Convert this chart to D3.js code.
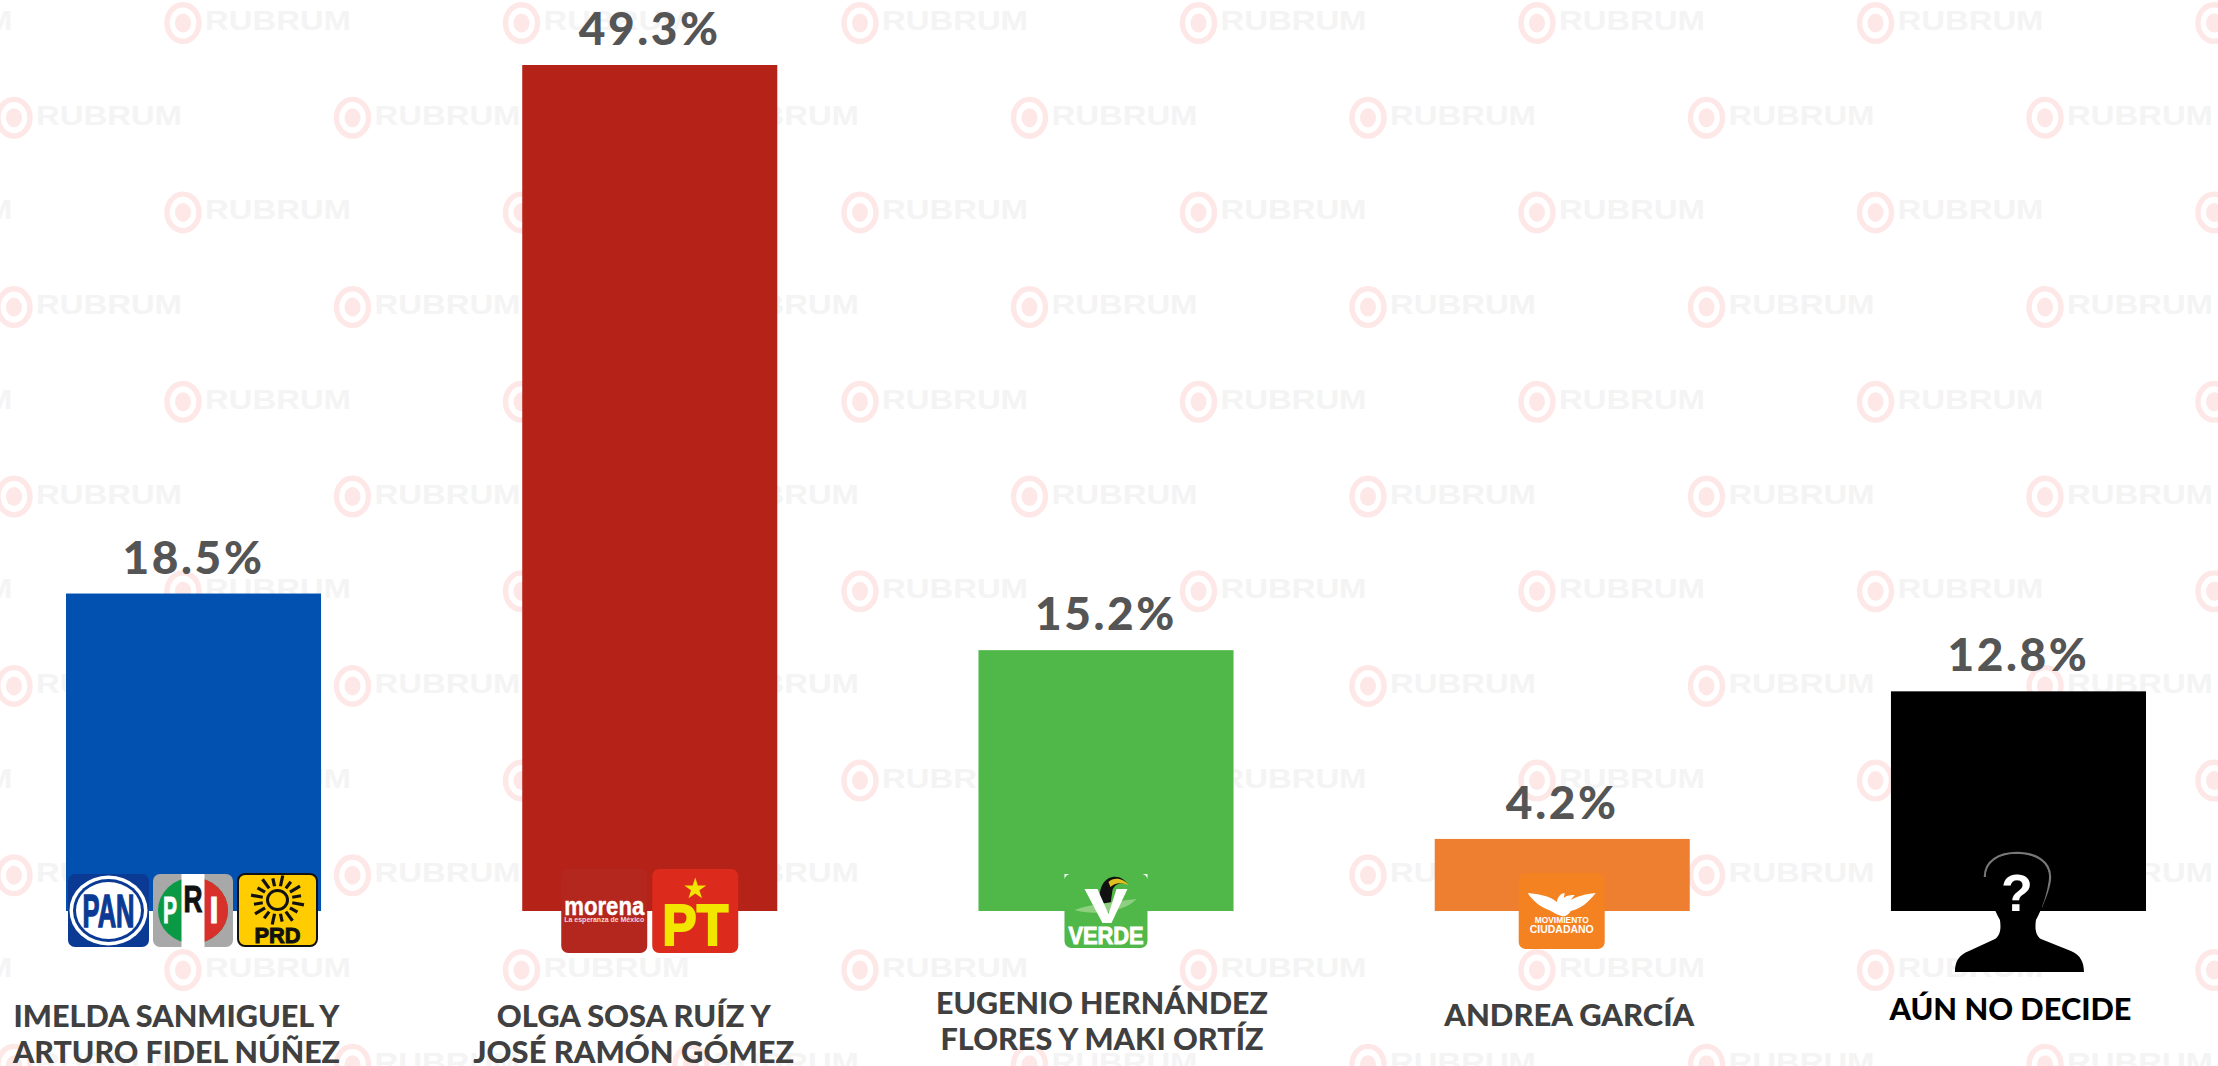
<!DOCTYPE html>
<html><head><meta charset="utf-8">
<style>html,body{margin:0;padding:0;background:#fff;overflow:hidden}svg{display:block}</style>
<script src="https://cdn.jsdelivr.net/npm/d3@7"></script></head>
<body><svg id="c" width="2218" height="1066"></svg>
<script>
const categories=["IMELDA SANMIGUEL Y|ARTURO FIDEL NÚÑEZ","OLGA SOSA RUÍZ Y|JOSÉ RAMÓN GÓMEZ","EUGENIO HERNÁNDEZ|FLORES Y MAKI ORTÍZ","ANDREA GARCÍA","AÚN NO DECIDE"];
const values=[18.5,49.3,15.2,4.2,12.8];
const barColors=["#0250b0","#b52217","#50b848","#ee7f31","#000000"];
const labelColors=["#404040","#404040","#404040","#404040","#000000"];
// layout of the category labels: x shift from bar centre, first baseline, fitted width per line
const labelDx=[-17,-16,-4,7,-8];
const labelY=[1027,1027,1014,1026,1020];
const labelW=[[326,327],[274,321],[332,323],[250],[242]];

const svg=d3.select("#c");
const x=d3.scaleBand().domain(categories).range([66,2146]).paddingInner(0.441);
const y=d3.scaleLinear().domain([0,49.3]).range([911,65]);
const base=y(0);

// watermark
const wm=svg.append("g");
const rowStep=94.7,colStep=338.5;
d3.range(0,12).forEach(r=>{
  const x0=r%2?14:183-338.5;
  d3.range(0,8).forEach(c=>{
    const g=wm.append("g").attr("transform",`translate(${x0+c*colStep},${25+r*rowStep-2})`);
    g.append("ellipse").attr("rx",16).attr("ry",18.3).attr("fill","none").attr("stroke","#fee7e7").attr("stroke-width",5.4);
    g.append("ellipse").attr("rx",8).attr("ry",9.5).attr("fill","#fee7e7");
    g.append("text").attr("x",22).attr("y",7).attr("font-family","Liberation Sans").attr("font-weight",700)
      .attr("font-size",28).attr("fill","#f4f4f4").attr("textLength",146).attr("lengthAdjust","spacingAndGlyphs").text("RUBRUM");
  });
});

// bars
svg.append("g").selectAll("rect").data(categories).join("rect")
  .attr("x",d=>x(d)).attr("width",x.bandwidth())
  .attr("y",(d,i)=>y(values[i])).attr("height",(d,i)=>base-y(values[i]))
  .attr("fill",(d,i)=>barColors[i]);

// value labels
svg.append("g").selectAll("text").data(categories).join("text")
  .attr("x",d=>x(d)+x.bandwidth()/2).attr("y",(d,i)=>y(values[i])-20)
  .attr("text-anchor","middle").attr("font-family","Lato").attr("font-weight",900).attr("font-size",46)
  .attr("letter-spacing",2.6).attr("fill","#555").text((d,i)=>values[i].toFixed(1)+"%");

// category labels
categories.forEach((cat,i)=>{
  cat.split("|").forEach((ln,j)=>{
    svg.append("text").attr("x",x(cat)+x.bandwidth()/2+labelDx[i]).attr("y",labelY[i]+j*35.5)
      .attr("text-anchor","middle").attr("font-family","Lato").attr("font-weight",900).attr("font-size",30.5)
      .attr("fill",labelColors[i]).attr("textLength",labelW[i][j]).attr("lengthAdjust","spacingAndGlyphs").text(ln);
  });
});

// logos
function T(g,s,xx,yy,size,fill,w,sw){return g.append("text").attr("x",xx).attr("y",yy).attr("text-anchor","middle")
  .attr("font-family","Liberation Sans").attr("font-weight",700).attr("font-size",size).attr("fill",fill)
  .attr("stroke",sw?fill:"none").attr("stroke-width",sw||0)
  .attr("textLength",w).attr("lengthAdjust","spacingAndGlyphs").text(s);}
function box(g,w,h,fill,stroke){return g.append("rect").attr("width",w).attr("height",h).attr("rx",7).attr("fill",fill).attr("stroke",stroke||"none").attr("stroke-width",stroke?2:0);}

const lg=svg.append("g");
function at(i,dx,dy){return lg.append("g").attr("transform",`translate(${x(categories[i])+dx},${base+dy})`);}

// PAN
let g=at(0,2,-37); box(g,81,73,"#0a3a94");
g.append("ellipse").attr("cx",40.5).attr("cy",36.5).attr("rx",39).attr("ry",35).attr("fill","#fff");
g.append("ellipse").attr("cx",40.5).attr("cy",36.5).attr("rx",35.5).attr("ry",31.5).attr("fill","#0a3a94");
g.append("ellipse").attr("cx",40.5).attr("cy",36.5).attr("rx",32.5).attr("ry",28.5).attr("fill","#fff");
T(g,"PAN",40.5,53,46,"#0a3a94",52,1.5);

// PRI
g=at(0,87,-37); box(g,80,73,"#a8a8a8");
g.append("ellipse").attr("cx",40).attr("cy",36.5).attr("rx",35).attr("ry",33).attr("fill","#0a9a46");
g.append("path").attr("d","M40,3.5A35,33 0 0 1 40,69.5Z").attr("fill","#d8302a");
g.append("rect").attr("x",28.5).attr("width",23).attr("height",73).attr("fill","#fff");
T(g,"P",17,49,36,"#fff",14,1); T(g,"R",40,38,36,"#111",19,1); T(g,"I",61,49,36,"#fff",9,1);

// PRD
g=at(0,172,-37); box(g,79,72,"#ffcc00","#111");
const sun=g.append("g").attr("transform","translate(39.5,26)");
d3.range(16).forEach(k=>{const a=k*Math.PI/8+Math.PI/16;
  sun.append("line").attr("x1",Math.cos(a)*15).attr("y1",Math.sin(a)*14).attr("x2",Math.cos(a)*(k%2?24:27)).attr("y2",Math.sin(a)*(k%2?22:25)).attr("stroke","#111").attr("stroke-width",3.2);});
sun.append("ellipse").attr("rx",10).attr("ry",9.5).attr("fill","none").attr("stroke","#111").attr("stroke-width",3);
T(g,"PRD",39.5,69,22,"#111",46,1);

// morena
g=at(1,39,-42); box(g,86,84,"#b4271f");
T(g,"morena",43,46,25,"#fff",80,0.4);
T(g,"La esperanza de México",43,53,6.5,"#f2d9d6",80);

// PT
g=at(1,130,-42); box(g,86,84,"#dc2a1c");
g.append("path").attr("d",d3.symbol(d3.symbolStar,150)()).attr("transform","translate(43,20)").attr("fill","#f2e600");
T(g,"PT",43,76,58,"#f2e600",66,2);

// VERDE
g=at(2,86,-37); box(g,83,74,"#50b848");
g.append("path").attr("d","M0,0H5Q1,1 0,5Z").attr("fill","#fff");
g.append("path").attr("d","M83,0H78Q82,1 83,5Z").attr("fill","#fff");
g.append("path").attr("d","M35,30C34,15 38,5 48,3C56,2 60,6 63,10C55,8 50,11 48,16L46,30Z").attr("fill","#111");
g.append("path").attr("d","M44,8C50,2 60,5 64,11C56,8 50,9 46,13Z").attr("fill","#e0c020");
g.append("path").attr("d","M10,36C25,30 50,28 72,25C60,38 30,42 10,36Z").attr("fill","#8fd080");
g.append("path").attr("d","M20,15H33L44,40L52,15H63L47,49H38Z").attr("fill","#fff");
T(g,"VERDE",41.5,70,24,"#fff",75,1);

// Movimiento Ciudadano
g=at(3,84,-38); box(g,86,76,"#f58220");
g.append("path").attr("d","M9,20C20,21 32,23 38,29C39,24 42,20 46,20L45,25C48,22 53,22 56,22L52,27C60,23 66,21 77,20C70,29 62,36 52,38C50,42 46,44 43,43C38,42 33,38 30,37C22,34 14,28 9,20Z").attr("fill","#fff");
T(g,"MOVIMIENTO",43,50,8.5,"#fff",54);
T(g,"CIUDADANO",43,60,11,"#fff",64);

// unknown person
g=at(4,126,0);
g.append("path").attr("d","M-32,-34C-32,-50 -18,-58 0,-58C18,-58 33,-50 33,-34C33,-24 28,-14 24,-4").attr("fill","none").attr("stroke","#777").attr("stroke-width",2.5);
g.append("path").attr("d","M-62,61C-62,50 -58,44 -48,40L-22,28C-16,24 -16,16 -17,9C-22,0 -30,-18 -31,-34C-31,-49 -18,-57 0,-57C18,-57 32,-49 32,-34C31,-18 24,0 19,9C18,16 18,24 24,28L54,40C64,44 67,52 67,61Z").attr("fill","#000");
T(g,"?",0,0,52,"#fff",null);
</script></body></html>
